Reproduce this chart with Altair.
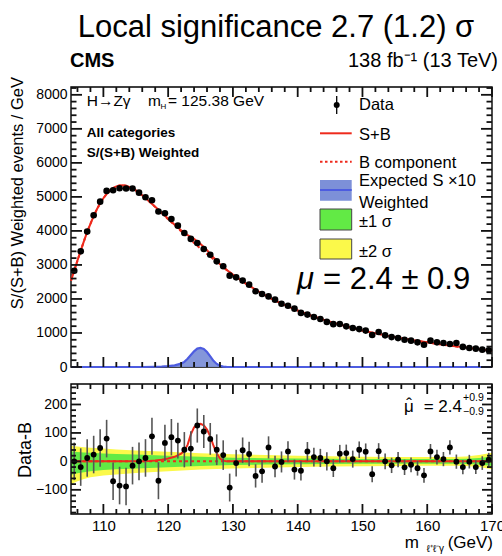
import altair as alt
import pandas as pd

# ------------------------------------------------------------------ data
bin_centers = [105.5 + i for i in range(65)]

data_top = [2830, 3400, 3980, 4460, 4860, 5175, 5195, 5255, 5245, 5245,
            5125, 4990, 4900, 4570, 4520, 4350, 4155, 3940, 3765, 3645,
            3470, 3300, 3105, 2960, 2685, 2635, 2540, 2420, 2225, 2145,
            2075, 1980, 1860, 1800, 1715, 1590, 1540, 1470, 1410, 1325,
            1260, 1265, 1195, 1145, 1115, 1070, 940, 1030, 930, 880,
            850, 800, 775, 725, 655, 775, 725, 705, 675, 705,
            590, 560, 540, 510, 490]

resid = [0, -20, 12, 24, 47, 80, -70, -85, -88, -15,
         0, 12, 88, -68, 65, 85, 73, 41, 45, 126,
         105, 79, 41, 22, -92, -6, 39, 26, -51, -35,
         49, -18, -2, 35, -29, -33, 35, 15, 12, 0,
         -24, 27, 29, 8, 41, 34, -45, 36, 0, -14,
         6, -21, -12, -24, -49, 35, 15, 8, 49, -1,
         -20, -1, -20, -6, 6]

resid_err = [66, 66, 66, 66, 66, 66, 66, 66,
             66, 66, 66, 66, 65, 65, 64, 64,
             63, 62, 61, 60, 58, 56, 54, 52,
             49, 47, 45, 43, 41, 40, 39, 38,
             37, 36, 35, 34, 33, 33, 32, 32,
             31, 31, 30, 30, 29, 29, 28, 28,
             28, 27, 27, 27, 26, 26, 26, 26,
             26, 25, 25, 25, 25, 24, 24, 24, 24]

curve_m = [105, 105.5, 106, 106.5, 107, 107.5, 108, 108.5, 109, 109.5,
           110, 110.5, 111, 111.5, 112, 112.5, 113, 113.5, 114, 114.5,
           115, 115.5, 116, 117, 118, 119, 120, 121, 122, 123,
           124, 125, 126, 127, 128, 129, 130, 132, 134, 136,
           138, 140, 142, 144, 146, 148, 150, 152, 154, 156,
           158, 160, 162, 164, 166, 168, 170]
bkg_top = [2540, 2830, 3130, 3420, 3700, 3970, 4210, 4435, 4635, 4810,
           4960, 5085, 5185, 5260, 5310, 5335, 5340, 5325, 5295, 5250,
           5190, 5120, 5045, 4880, 4705, 4525, 4345, 4165, 3990, 3815,
           3645, 3480, 3320, 3165, 3010, 2860, 2715, 2450, 2215, 2005,
           1820, 1660, 1515, 1390, 1275, 1170, 1075, 990, 915, 845,
           780, 725, 665, 615, 570, 525, 475]
sb_top = [2540, 2830, 3130, 3420, 3700, 3970, 4210, 4435, 4635, 4810,
          4960, 5085, 5185, 5260, 5310, 5335, 5340, 5325, 5295, 5250,
          5190, 5120, 5045, 4881, 4708, 4531, 4355, 4181, 4017, 3873,
          3765, 3612, 3432, 3220, 3020, 2860, 2715, 2450, 2215, 2005,
          1820, 1660, 1515, 1390, 1275, 1170, 1075, 990, 915, 845,
          780, 725, 665, 615, 570, 525, 475]

exp_m = [105, 116, 118, 119, 120, 121, 122, 122.5, 123, 123.5, 124, 124.5,
         125, 125.5, 126, 126.5, 127, 127.5, 128, 128.5, 129, 130, 170]
exp_v = [0, 0, 8, 15, 28, 50, 100, 150, 240, 350, 460, 540,
         560, 530, 440, 310, 180, 90, 35, 10, 2, 0, 0]

sig_m = [105, 116, 117, 118, 119, 120, 121, 122, 122.5, 123, 123.5, 124,
         124.5, 125, 125.5, 126, 126.5, 127, 127.5, 128, 128.5, 129, 170]
sig_v = [0, 0, 1, 3, 6, 10, 16, 27, 38, 58, 95, 120,
         130, 132, 127, 112, 88, 55, 28, 10, 3, 0, 0]

band_m = [105, 106, 107, 108, 110, 112, 115, 120, 125, 130,
          135, 140, 145, 150, 155, 160, 164, 166, 168, 170]
band2_hi = [55, 52, 50, 48, 45, 42, 38, 34, 29, 25,
            22, 20, 18, 16, 15, 15, 15, 17, 22, 30]
band2_lo = [-80, -70, -62, -56, -50, -46, -41, -35, -29, -25,
            -22, -20, -18, -17, -16, -15, -15, -16, -20, -28]
band1_hi = [36, 33, 31, 30, 28, 26, 24, 20, 16, 13,
            11, 10, 9, 8, 8, 8, 8, 9, 12, 17]
band1_lo = [-47, -42, -38, -35, -30, -28, -25, -21, -16, -13,
            -11, -10, -9, -8, -8, -8, -8, -9, -11, -16]

x_major = [110.0, 120.0, 130.0, 140.0, 150.0, 160.0, 170.0]
x_minor = [106.0, 108.0, 112.0, 114.0, 116.0, 118.0, 122.0, 124.0, 126.0, 128.0,
           132.0, 134.0, 136.0, 138.0, 142.0, 144.0, 146.0, 148.0, 152.0, 154.0,
           156.0, 158.0, 162.0, 164.0, 166.0, 168.0]
ytop_major = [0.0, 1000.0, 2000.0, 3000.0, 4000.0, 5000.0, 6000.0, 7000.0, 8000.0]
ytop_minor = [float(v) for v in range(200, 8201, 200) if v % 1000 != 0]
ybot_major = [-100.0, 0.0, 100.0, 200.0]
ybot_minor = [float(v) for v in range(-180, 261, 20) if v % 100 != 0]

# ------------------------------------------------------------------ style
FONT = "Liberation Sans"
RED = "#ee2a1c"
TICK_COL = "#111111"
W, H = 421, 427
TOP_Y0, TOP_Y1 = 0, 280
BOT_Y0, BOT_Y1 = 297, 427
XDOM = [105, 170]
YTOP_DOM = [0, 8230]
YBOT_DOM = [-185, 272]

xs = alt.Scale(domain=XDOM, nice=False, zero=False)
yts = alt.Scale(domain=YTOP_DOM, range=[TOP_Y1, TOP_Y0], nice=False, zero=False)
ybs = alt.Scale(domain=YBOT_DOM, range=[BOT_Y1, BOT_Y0], nice=False, zero=False)

df_top = pd.DataFrame({"m": bin_centers, "v": data_top})
df_res = pd.DataFrame({"m": bin_centers, "r": resid,
                       "lo": [r - e for r, e in zip(resid, resid_err)],
                       "hi": [r + e for r, e in zip(resid, resid_err)]})
df_curve = pd.DataFrame({"m": curve_m, "b": bkg_top, "sb": sb_top})
df_exp = pd.DataFrame({"m": exp_m, "v": exp_v, "z": [0] * len(exp_m)})
df_sig = pd.DataFrame({"m": sig_m, "v": sig_v, "z": [0] * len(sig_m)})
df_band = pd.DataFrame({"m": band_m, "h2": band2_hi, "l2": band2_lo,
                        "h1": band1_hi, "l1": band1_lo})

# frame tick tables: tick value, pixel start and end of each inward tick
xt_rows = []
for y0, sgn in [(TOP_Y0, 1), (TOP_Y1, -1), (BOT_Y0, 1), (BOT_Y1, -1)]:
    for v in x_major:
        xt_rows.append({"m": v, "ya": y0, "yb": y0 + sgn * 10})
    for v in x_minor:
        xt_rows.append({"m": v, "ya": y0, "yb": y0 + sgn * 5})
df_xt = pd.DataFrame(xt_rows)

ytt_rows = []
for v in ytop_major:
    ytt_rows += [{"v": v, "xa": 0, "xb": 11}, {"v": v, "xa": W, "xb": W - 11}]
for v in ytop_minor:
    ytt_rows += [{"v": v, "xa": 0, "xb": 5.5}, {"v": v, "xa": W, "xb": W - 5.5}]
df_ytt = pd.DataFrame(ytt_rows)

ybt_rows = []
for v in ybot_major:
    ybt_rows += [{"v": v, "xa": 0, "xb": 10}, {"v": v, "xa": W, "xb": W - 10}]
for v in ybot_minor:
    ybt_rows += [{"v": v, "xa": 0, "xb": 5}, {"v": v, "xa": W, "xb": W - 5}]
df_ybt = pd.DataFrame(ybt_rows)

px_y = alt.Scale(domain=[0, H], range=[0, H], nice=False, zero=False)
px_x = alt.Scale(domain=[0, W], range=[0, W], nice=False, zero=False)


def X(f="m"):
    return alt.X(f"{f}:Q", scale=xs, axis=None)


def YT(f):
    return alt.Y(f"{f}:Q", scale=yts, axis=None)


def YB(f):
    return alt.Y(f"{f}:Q", scale=ybs, axis=None)


layers = []

fr_t = pd.DataFrame({"x1": [XDOM[0]], "x2": [XDOM[1]], "y1": [YTOP_DOM[0]], "y2": [YTOP_DOM[1]]})
fr_b = pd.DataFrame({"x1": [XDOM[0]], "x2": [XDOM[1]], "y1": [YBOT_DOM[0]], "y2": [YBOT_DOM[1]]})

# bottom panel
layers.append(alt.Chart(df_band).mark_area(color="#fbf94a").encode(x=X(), y=YB("l2"), y2="h2:Q"))
layers.append(alt.Chart(df_band).mark_area(color="#62ea45").encode(x=X(), y=YB("l1"), y2="h1:Q"))
layers.append(alt.Chart(df_sig).mark_line(color=RED, strokeWidth=2, strokeDash=[3, 3]).encode(x=X(), y=YB("z")))
layers.append(alt.Chart(df_sig).mark_line(color=RED, strokeWidth=2).encode(x=X(), y=YB("v")))
layers.append(alt.Chart(df_res).mark_rule(color="#555555", strokeWidth=1.6).encode(x=X(), y=YB("lo"), y2="hi:Q"))
layers.append(alt.Chart(df_res).mark_circle(color="black", size=34, opacity=1).encode(x=X(), y=YB("r")))
layers.append(alt.Chart(fr_b).mark_rect(filled=False, stroke="black", strokeWidth=1.4)
              .encode(x=X("x1"), x2="x2:Q", y=YB("y1"), y2="y2:Q"))

# top panel
layers.append(alt.Chart(fr_t).mark_rect(filled=False, stroke="black", strokeWidth=1.4)
              .encode(x=X("x1"), x2="x2:Q", y=YT("y1"), y2="y2:Q"))
layers.append(alt.Chart(df_exp).mark_area(color="#7d90d8", opacity=0.95).encode(x=X(), y=YT("v"), y2="z:Q"))
layers.append(alt.Chart(df_exp).mark_line(color="#4d5ce0", strokeWidth=2.2).encode(x=X(), y=YT("v")))
layers.append(alt.Chart(df_curve).mark_line(color=RED, strokeWidth=2, strokeDash=[3, 3]).encode(x=X(), y=YT("b")))
layers.append(alt.Chart(df_curve).mark_line(color=RED, strokeWidth=2).encode(x=X(), y=YT("sb")))
layers.append(alt.Chart(df_top).mark_circle(color="black", size=44, opacity=1).encode(x=X(), y=YT("v")))

# inward frame ticks, ROOT style
layers.append(alt.Chart(df_xt).mark_rule(color=TICK_COL, strokeWidth=1.8, opacity=1).encode(
    x=X("m"), y=alt.Y("ya:Q", scale=px_y, axis=None), y2="yb:Q"))
layers.append(alt.Chart(df_ytt).mark_rule(color=TICK_COL, strokeWidth=1.8, opacity=1).encode(
    y=YT("v"), x=alt.X("xa:Q", scale=px_x, axis=None), x2="xb:Q"))
layers.append(alt.Chart(df_ybt).mark_rule(color=TICK_COL, strokeWidth=1.8, opacity=1).encode(
    y=YB("v"), x=alt.X("xa:Q", scale=px_x, axis=None), x2="xb:Q"))


# tick labels from axes
def x_axis_layer(ax):
    return alt.Chart(pd.DataFrame({"v": [137.5]})).mark_point(opacity=0).encode(
        x=alt.X("v:Q", scale=xs, axis=ax))


def y_axis_layer(ax, sc, val):
    return alt.Chart(pd.DataFrame({"v": [val]})).mark_point(opacity=0).encode(
        y=alt.Y("v:Q", scale=sc, axis=ax))


layers.append(x_axis_layer(alt.Axis(orient="bottom", values=[int(v) for v in x_major], ticks=False,
                                    tickSize=0, domain=False, grid=False, title=None, labelFont=FONT,
                                    labelFontSize=15, labelColor="black", labelPadding=4,
                                    labelFlush=False, labelOverlap=False, format="d")))

for vals, sc in [(ytop_major, yts), (ybot_major, ybs)]:
    layers.append(y_axis_layer(alt.Axis(orient="left", values=[int(v) for v in vals], ticks=False,
                                        tickSize=0, domain=False, grid=False, title=None,
                                        labelFont=FONT, labelFontSize=14, labelColor="black",
                                        labelPadding=4, labelFlush=False, labelOverlap=False,
                                        format="d"), sc, 0))


# text annotations
def label(txt, x, y, size, align="left", baseline="middle", weight="normal",
          angle=0, style="normal", color="black"):
    kw = dict(font=FONT, fontSize=size, align=align, baseline=baseline,
              fontWeight=weight, fontStyle=style, color=color)
    if angle:
        kw["angle"] = angle
    return alt.Chart(pd.DataFrame({"t": [txt]})).mark_text(**kw).encode(
        text="t:N", x=alt.value(x), y=alt.value(y))


layers += [
    label("Local significance 2.7 (1.2) σ", 205, -50, 31, align="center", baseline="alphabetic"),
    label("CMS", -1, -20, 20, baseline="alphabetic", weight="bold"),
    label("138 fb⁻¹ (13 TeV)", 427, -20, 20, align="right", baseline="alphabetic"),
    label("S/(S+B) Weighted events / GeV", -53, -10, 16.5, align="right", angle=270),
    label("Data-B", -45, 363, 18, align="center", angle=270),
    label("H→Zγ", 15.7, 19, 15.5, baseline="alphabetic"),
    label("m", 77, 19, 15.5, baseline="alphabetic"),
    label("H", 89.5, 22, 8, baseline="alphabetic"),
    label("= 125.38 GeV", 97, 19, 15.5, baseline="alphabetic"),
    label("All categories", 15.7, 46.3, 13.5, weight="bold"),
    label("S/(S+B) Weighted", 15.7, 65.7, 13.5, weight="bold"),
    label("Data", 288, 18, 16.5),
    label("S+B", 288, 48, 16.5),
    label("B component", 288, 76, 16.5),
    label("Expected S ×10", 288, 94, 16.5),
    label("Weighted", 288, 116, 16.5),
    label("±1 σ", 288, 135, 16.5),
    label("±2 σ", 288, 165, 16.5),
    label("μ", 226, 193, 31, style="italic"),
    label("= 2.4 ± 0.9", 252, 193, 31),
    label("μ", 333, 325, 17, baseline="alphabetic"),
    label("ˆ", 338, 323, 17, align="center", baseline="alphabetic"),
    label("= 2.4", 391, 325, 17, align="right", baseline="alphabetic"),
    label("+0.9", 392, 311, 10.5),
    label("−0.9", 392, 325, 10.5),
    label("(GeV)", 422, 461, 17, align="right", baseline="alphabetic"),
    label("ℓ⁺ℓ⁻γ", 373, 465, 10, align="right", baseline="alphabetic"),
    label("m", 348, 461, 17, align="right", baseline="alphabetic"),
]

# legend symbols
one = pd.DataFrame({"k": [0]})
layers += [
    alt.Chart(one).mark_rule(color="black", strokeWidth=1.3).encode(
        x=alt.value(265.7), y=alt.value(9), y2=alt.value(27)),
    alt.Chart(one).mark_circle(color="black", size=36, opacity=1).encode(
        x=alt.value(265.7), y=alt.value(18)),
    alt.Chart(one).mark_rule(color=RED, strokeWidth=2).encode(
        x=alt.value(249), x2=alt.value(280.7), y=alt.value(46.3)),
    alt.Chart(one).mark_rule(color=RED, strokeWidth=2, strokeDash=[2.5, 2.5]).encode(
        x=alt.value(249), x2=alt.value(280.7), y=alt.value(74.7)),
    alt.Chart(one).mark_rect(color="#7d90d8").encode(
        x=alt.value(249), x2=alt.value(280.7), y=alt.value(93), y2=alt.value(113.7)),
    alt.Chart(one).mark_rule(color="#4d5ce0", strokeWidth=2).encode(
        x=alt.value(249), x2=alt.value(280.7), y=alt.value(103)),
    alt.Chart(one).mark_rect(color="#62ea45", stroke="#444444", strokeWidth=1).encode(
        x=alt.value(249), x2=alt.value(280.7), y=alt.value(122), y2=alt.value(143)),
    alt.Chart(one).mark_rect(color="#fbf94a", stroke="#444444", strokeWidth=1).encode(
        x=alt.value(249), x2=alt.value(280.7), y=alt.value(152), y2=alt.value(172)),
]

chart = (
    alt.layer(*layers)
    .resolve_scale(y="independent", x="independent")
    .resolve_axis(x="independent", y="independent")
    .properties(width=W, height=H,
                autosize=alt.AutoSizeParams(type="none"),
                padding={"left": 71, "top": 87, "right": 10, "bottom": 42},
                background="white")
    .configure_view(strokeWidth=0)
)

chart.save("out.html", embed_options={"renderer": "svg", "actions": False})
